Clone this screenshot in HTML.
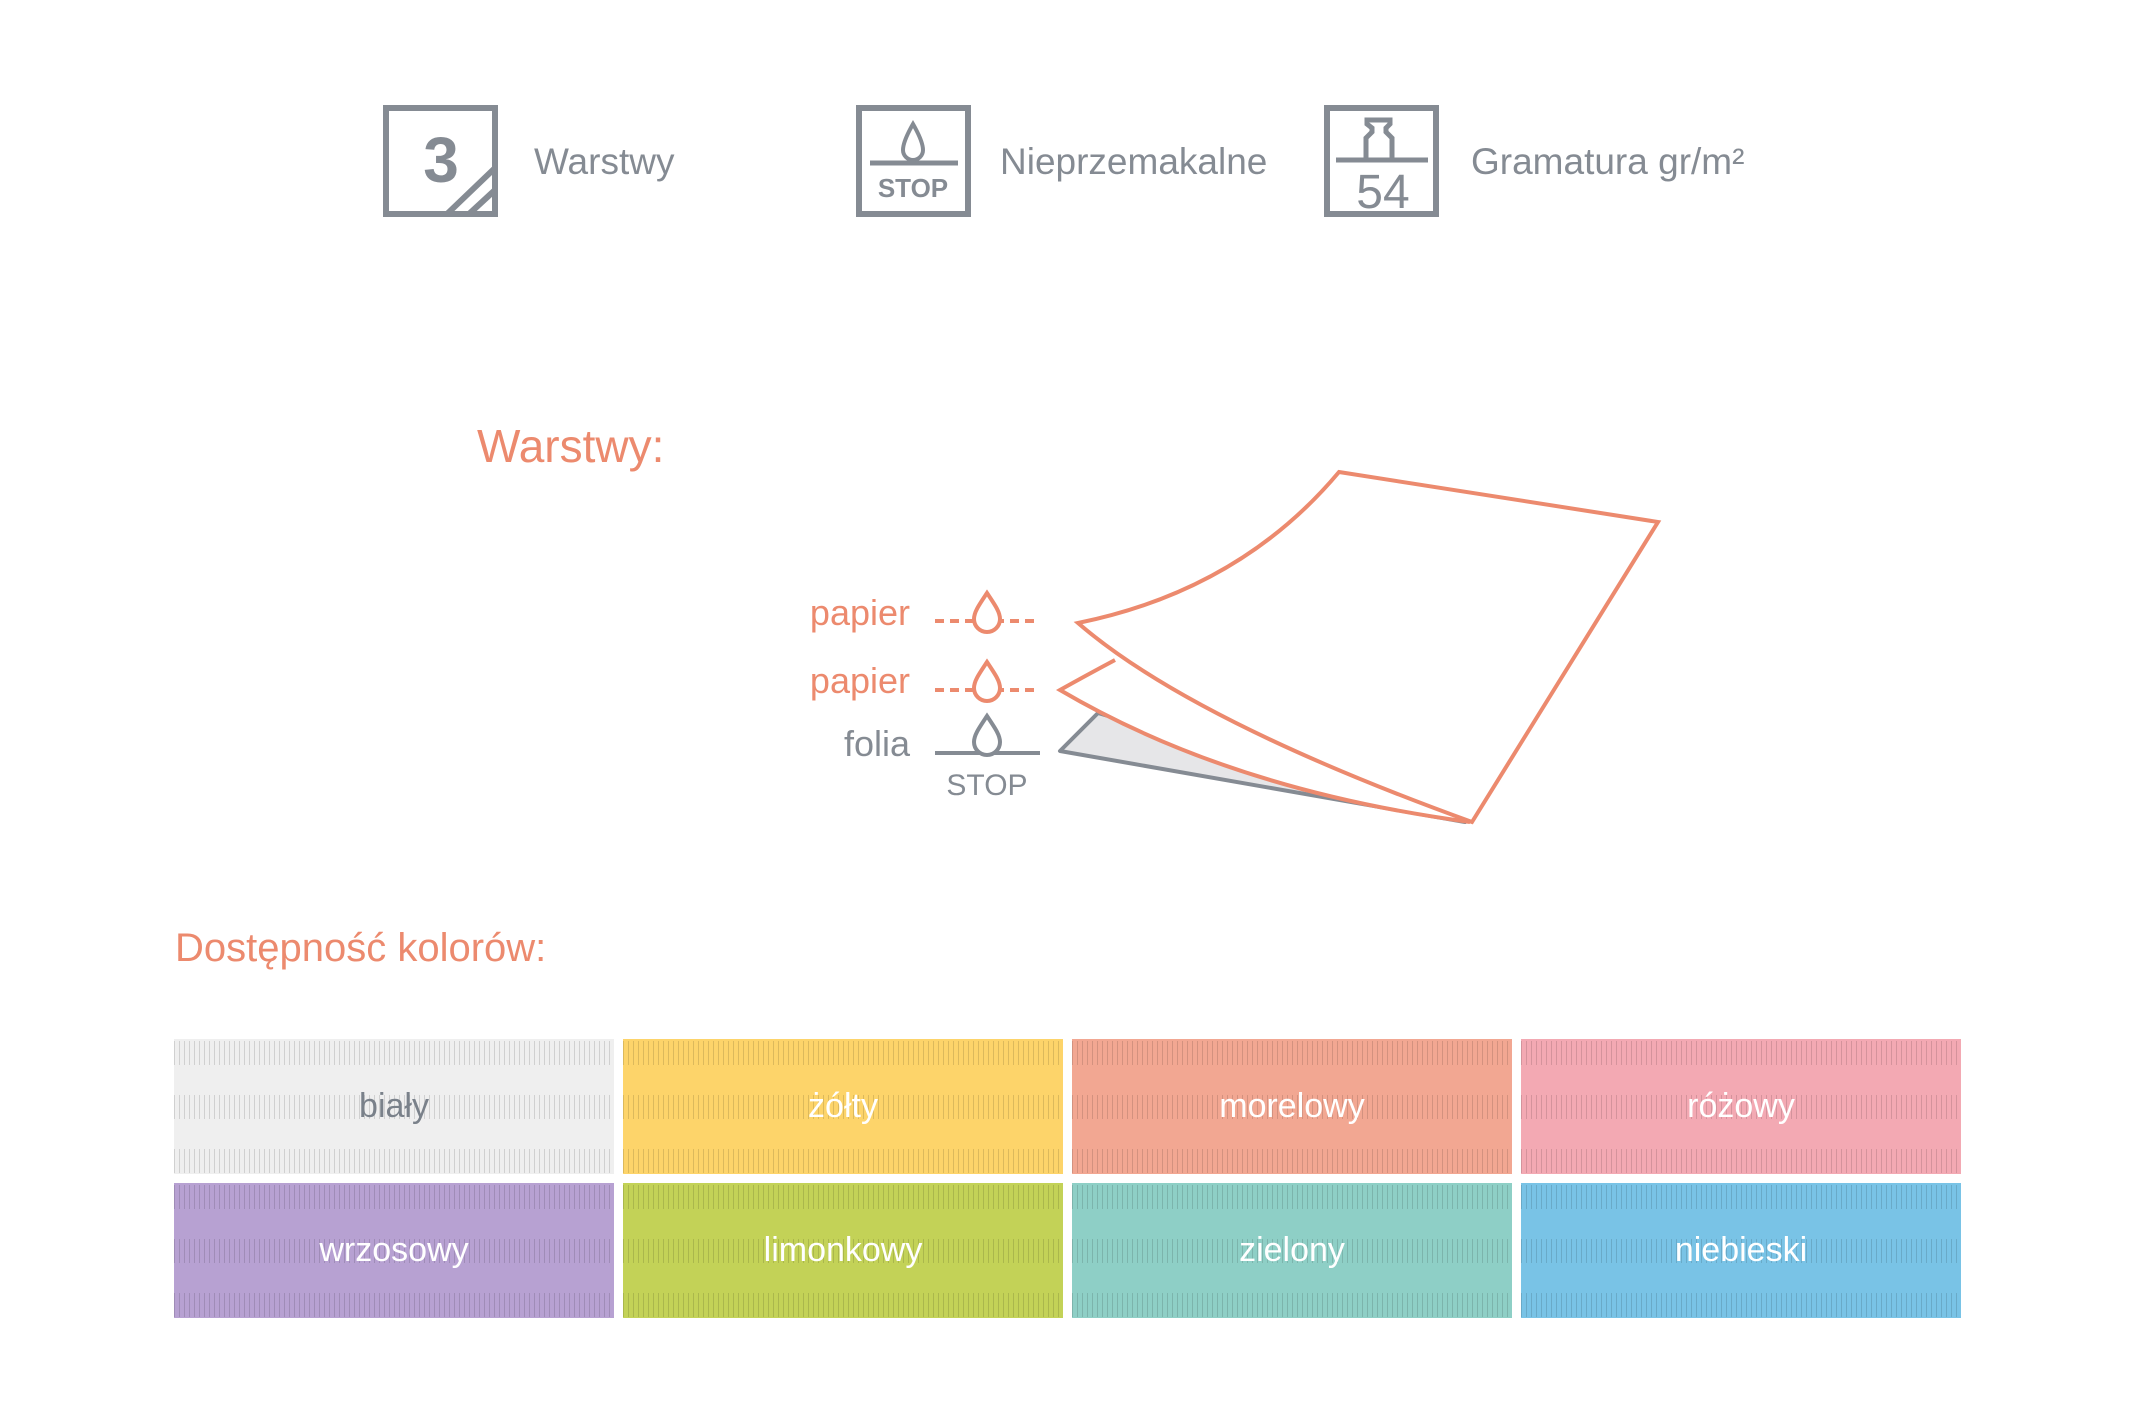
<!DOCTYPE html>
<html><head><meta charset="utf-8"><style>
html,body{margin:0;padding:0;background:#fff;}
body{width:2130px;height:1420px;position:relative;overflow:hidden;font-family:"Liberation Sans","DejaVu Sans",sans-serif;}
.sw{position:absolute;width:440px;height:135px;display:flex;align-items:center;justify-content:center;color:#fff;font-size:34px;}
.sw::before{content:"";position:absolute;inset:0;
background:
repeating-linear-gradient(90deg,rgba(0,0,0,0.13) 0 1px,transparent 1px 5px) 0 2px/100% 24px no-repeat,
repeating-linear-gradient(90deg,rgba(0,0,0,0.13) 0 1px,transparent 1px 5px) 0 56px/100% 24px no-repeat,
repeating-linear-gradient(90deg,rgba(0,0,0,0.13) 0 1px,transparent 1px 5px) 0 110px/100% 24px no-repeat;}
.sw span{position:relative;}
</style></head><body>
<svg width="2130" height="1420" style="position:absolute;left:0;top:0" xmlns="http://www.w3.org/2000/svg">
<g stroke="#858b93" fill="none" stroke-width="6">
<rect x="386" y="108" width="109" height="106"/>
<line x1="447" y1="214" x2="495" y2="168"/>
<line x1="469" y1="214" x2="495" y2="190"/>
<rect x="859" y="108" width="109" height="106"/>
<line x1="870" y1="163" x2="958" y2="163" stroke-width="5"/>
<rect x="1327" y="108" width="109" height="106"/>
<line x1="1336" y1="160" x2="1428" y2="160" stroke-width="5"/>
<path d="M1366 159 V138 L1372 132 V128 L1367 124 V120 H1390 V124 L1386 128 V132 L1392 138 V159" stroke-width="5"/>
</g>
<path d="M913 124 C905 138 903 145 903 150 A10 10 0 0 0 923 150 C923 145 921 138 913 124 Z" fill="none" stroke="#858b93" stroke-width="4"/>
<text x="441" y="182" font-size="64" font-weight="bold" fill="#858b93" text-anchor="middle">3</text>
<text x="913" y="197" font-size="26" font-weight="bold" fill="#858b93" text-anchor="middle">STOP</text>
<text x="1383" y="208" font-size="48" fill="#858b93" text-anchor="middle">54</text>
<g font-size="37" fill="#858b93">
<text x="534" y="174">Warstwy</text>
<text x="1000" y="174">Nieprzemakalne</text>
<text x="1471" y="174">Gramatura gr/m²</text>
</g>
<text x="477" y="462" font-size="46" fill="#ec8a6e">Warstwy:</text>
<text x="175" y="961" font-size="40" fill="#ec8a6e">Dostępność kolorów:</text>
<path d="M1098 713 L1060 751 L1465 822 Z" fill="#e6e6e8" stroke="#858b93" stroke-width="4" stroke-linejoin="round"/>
<path d="M1115 660 Q1085 676 1060 690 Q1230 790 1470 822" fill="#fff" stroke="#ec8a6e" stroke-width="4"/>
<path d="M1339 472 L1658 522 L1472 822 Q1190 720 1078 623 Q1240 590 1339 472 Z" fill="#fff" stroke="#ec8a6e" stroke-width="4" stroke-linejoin="miter"/>
<g font-size="36">
<text x="910" y="625" fill="#ec8a6e" text-anchor="end">papier</text>
<text x="910" y="693" fill="#ec8a6e" text-anchor="end">papier</text>
<text x="910" y="756" fill="#858b93" text-anchor="end">folia</text>
</g>
<g stroke="#ec8a6e" stroke-width="4" fill="none">
<line x1="935" y1="621" x2="1040" y2="621" stroke-dasharray="9 6"/>
<line x1="935" y1="690" x2="1040" y2="690" stroke-dasharray="9 6"/>
<path d="M987 593 C979 605 974 612 974 619 A13 13 0 0 0 1000 619 C1000 612 995 605 987 593 Z" fill="#fff"/>
<path d="M987 662 C979 674 974 681 974 688 A13 13 0 0 0 1000 688 C1000 681 995 674 987 662 Z" fill="#fff"/>
</g>
<line x1="935" y1="753" x2="1040" y2="753" stroke="#858b93" stroke-width="4"/>
<path d="M987 716 C979 728 974 735 974 742 A13 13 0 0 0 1000 742 C1000 735 995 728 987 716 Z" fill="#fff" stroke="#858b93" stroke-width="4"/>
<text x="987" y="795" font-size="30" fill="#858b93" text-anchor="middle">STOP</text>
</svg>
<div class="sw" style="left:174px;top:1039px;background:#efefef;color:#7a818a"><span>biały</span></div>
<div class="sw" style="left:623px;top:1039px;background:#fdd46a"><span>żółty</span></div>
<div class="sw" style="left:1072px;top:1039px;background:#f2a792"><span>morelowy</span></div>
<div class="sw" style="left:1521px;top:1039px;background:#f3a9b3"><span>różowy</span></div>
<div class="sw" style="left:174px;top:1183px;background:#b7a1d2"><span>wrzosowy</span></div>
<div class="sw" style="left:623px;top:1183px;background:#c3d257"><span>limonkowy</span></div>
<div class="sw" style="left:1072px;top:1183px;background:#8ecfc6"><span>zielony</span></div>
<div class="sw" style="left:1521px;top:1183px;background:#79c3e6"><span>niebieski</span></div>
</body></html>
